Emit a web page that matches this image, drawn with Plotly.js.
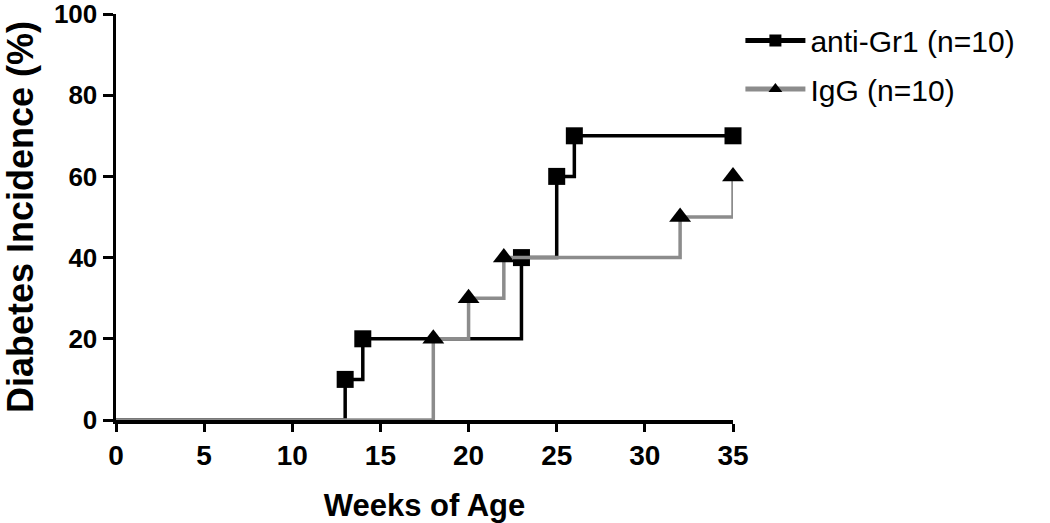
<!DOCTYPE html>
<html>
<head>
<meta charset="utf-8">
<script src="https://cdn.plot.ly/plotly-3.0.1.min.js"></script>
<style>html,body{margin:0;padding:0;background:#fff;}#chart{width:1050px;height:523px;}</style>
</head>
<body>
<div id="chart"></div>
<script>
// Data (step curves, event points)
const antiGr1Weeks = [0, 13, 14, 23, 25, 26, 35];
const antiGr1Incidence = [0, 10, 20, 40, 60, 70, 70];
const antiGr1MarkerShown = [false, true, true, true, true, true, true];

const iggWeeks = [0, 18, 20, 22, 32, 35];
const iggIncidence = [0, 20, 30, 40, 50, 60];
const iggMarkerShown = [false, true, true, true, true, true];

const seriesNames = ["anti-Gr1 (n=10)", "IgG (n=10)"];
const xTicks = [0, 5, 10, 15, 20, 25, 30, 35];
const yTicks = [0, 20, 40, 60, 80, 100];

const FONT = "Liberation Sans, Arial, sans-serif";

const traces = [
  {
    x: antiGr1Weeks, y: antiGr1Incidence, name: seriesNames[0],
    type: "scatter", mode: "lines+markers",
    line: {shape: "hv", color: "#000000", width: 3.5},
    marker: {symbol: "square", color: "#000000", opacity: 1, line: {width: 0},
             size: antiGr1MarkerShown.map(s => s ? 17 : 0)},
    cliponaxis: false, legend: "legend"
  },
  {
    x: iggWeeks, y: iggIncidence, name: seriesNames[1],
    type: "scatter", mode: "lines+markers",
    line: {shape: "hv", color: "#8c8c8c", width: 3.5},
    marker: {symbol: "triangle-up", color: "#000000", opacity: 1, line: {width: 0},
             size: iggMarkerShown.map(s => s ? 19 : 0)},
    cliponaxis: false, legend: "legend2"
  }
];

const legendCommon = {
  xanchor: "left", yanchor: "middle", bgcolor: "rgba(0,0,0,0)",
  font: {family: FONT, size: 30, color: "#000"}, itemsizing: "constant", itemwidth: 60
};

const layout = {
  width: 1050, height: 523,
  margin: {l: 116, r: 317, t: 14, b: 103},
  paper_bgcolor: "#fff", plot_bgcolor: "#fff",
  showlegend: true,
  legend: Object.assign({x: 1.012, y: 0.935}, legendCommon),
  legend2: Object.assign({x: 1.012, y: 0.815}, legendCommon),
  xaxis: {
    range: [0, 35], tickvals: xTicks, ticktext: xTicks.map(String),
    showgrid: false, zeroline: false, showline: true, linecolor: "#000", linewidth: 3.5,
    ticks: "outside", ticklen: 8, tickwidth: 3, tickcolor: "#000",
    tickfont: {family: FONT, size: 28, color: "#000", weight: "bold"},
    title: {text: "<b>Weeks of Age</b>", font: {family: FONT, size: 31, color: "#000"}, standoff: 26},
    layer: "below traces", fixedrange: true
  },
  yaxis: {
    range: [0, 100], tickvals: yTicks, ticktext: yTicks.map(String),
    showgrid: false, zeroline: false, showline: true, linecolor: "#000", linewidth: 3.5,
    ticks: "outside", ticklen: 10, tickwidth: 3, tickcolor: "#000",
    tickfont: {family: FONT, size: 26, color: "#000", weight: "bold"},
    ticklabeloverflow: "allow",
    title: {text: "<b>Diabetes Incidence (%)</b>", font: {family: FONT, size: 36, color: "#000"}, standoff: 12},
    layer: "below traces", fixedrange: true
  }
};

Plotly.newPlot("chart", traces, layout, {displayModeBar: false, staticPlot: true});
</script>
</body>
</html>
